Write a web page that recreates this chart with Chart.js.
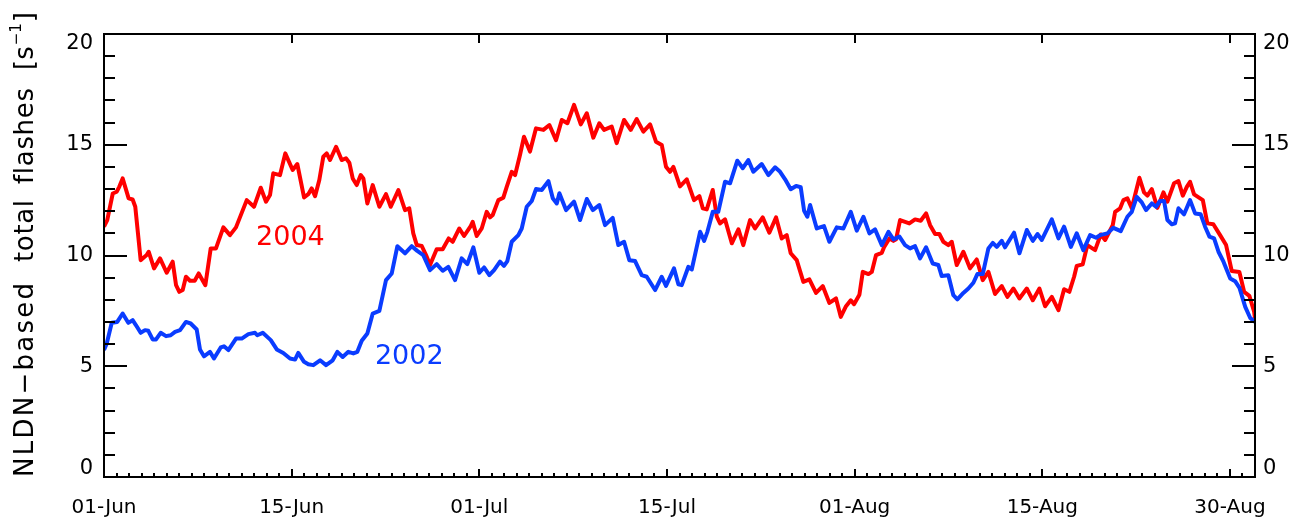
<!DOCTYPE html>
<html>
<head>
<meta charset="utf-8">
<script src="https://cdn.jsdelivr.net/npm/chart.js@4.4.1/dist/chart.umd.min.js"></script>
<style>
  html, body { margin: 0; padding: 0; background: #ffffff; }
  #wrap { width: 1302px; height: 520px; }
</style>
</head>
<body>
<div id="wrap"><canvas id="c" width="1302" height="520"></canvas></div>
<script>
// Day offsets from 01-Jun and running flash rates [s^-1]
const days2004 = [0.00,0.26,0.70,1.02,1.22,1.49,1.97,2.29,2.50,2.93,3.41,3.57,4.00,4.48,5.01,5.49,5.76,6.02,6.29,6.55,6.87,7.25,7.57,8.10,8.53,8.95,9.54,10.07,10.55,11.41,11.99,12.53,12.95,13.27,13.53,14.07,14.49,15.08,15.45,15.99,16.33,16.60,16.87,17.21,17.53,17.80,18.07,18.55,19.00,19.34,19.61,19.88,20.20,20.52,20.73,21.05,21.48,22.01,22.54,22.92,23.53,24.06,24.40,24.72,25.00,25.40,25.74,26.06,26.59,27.07,27.55,27.87,28.40,28.78,29.31,29.47,29.79,30.19,30.59,30.86,31.07,31.52,31.92,32.19,32.59,32.86,33.25,33.57,34.05,34.53,35.12,35.60,36.13,36.59,37.04,37.57,38.11,38.59,39.11,39.59,39.97,40.58,40.98,41.57,42.10,42.58,43.11,43.65,44.12,44.58,44.92,45.24,45.51,46.04,46.58,47.16,47.59,47.86,48.18,48.66,48.98,49.24,49.64,50.18,50.71,51.10,51.64,52.04,52.65,53.18,53.72,54.17,54.57,54.89,55.37,55.90,56.38,56.91,57.45,57.98,58.51,58.89,59.31,59.69,59.95,60.38,60.65,61.10,61.37,61.71,62.17,62.35,62.78,63.10,63.31,63.63,64.03,64.37,64.83,65.28,65.71,66.03,66.43,66.77,67.09,67.49,67.76,68.16,68.69,69.22,69.76,70.24,70.69,71.22,71.76,72.21,72.69,73.17,73.76,74.24,74.77,75.22,75.76,76.29,76.74,77.16,77.54,77.75,78.23,78.60,79.22,79.67,80.02,80.63,80.82,81.22,81.48,81.80,82.15,82.76,83.13,83.40,83.75,84.20,84.68,85.00,85.53,85.88,86.23,86.55,86.81,87.13,87.83,88.19,88.67,89.21,89.69,90.14,90.75,91.13,91.55,91.93,92.00];
const flashes2004 = [11.30,11.60,12.80,12.88,13.10,13.48,12.58,12.53,12.20,9.79,10.02,10.17,9.42,9.87,9.22,9.72,8.66,8.36,8.44,9.04,8.86,8.86,9.19,8.66,10.32,10.32,11.27,10.92,11.27,12.50,12.20,13.06,12.43,12.73,13.71,13.63,14.61,13.86,14.13,12.62,12.77,13.03,12.68,13.41,14.46,14.61,14.31,14.91,14.31,14.39,14.19,13.48,13.18,13.63,13.48,12.35,13.18,12.20,12.77,12.20,12.95,12.05,12.13,11.00,10.47,10.43,10.02,9.57,10.28,10.28,10.77,10.62,11.22,10.88,11.33,11.52,10.88,11.22,11.97,11.72,11.83,12.50,12.61,13.10,13.78,13.63,14.54,15.36,14.69,15.74,15.67,15.89,15.21,16.12,15.97,16.80,15.92,16.42,15.32,15.97,15.67,15.82,15.07,16.12,15.67,16.16,15.59,15.92,15.14,14.99,14.01,13.78,14.00,13.12,13.44,12.50,12.68,12.13,12.08,12.96,11.75,11.45,11.63,10.55,11.18,10.47,11.60,11.22,11.72,11.03,11.72,10.77,10.92,10.10,9.79,8.81,8.92,8.31,8.62,7.86,8.06,7.23,7.71,7.98,7.80,8.23,9.26,9.16,9.26,10.02,10.12,10.37,10.77,10.66,10.73,11.60,11.52,11.45,11.63,11.57,11.90,11.37,10.97,10.97,10.62,10.47,10.62,9.57,10.17,9.42,9.82,8.89,9.26,8.26,8.62,8.13,8.51,8.06,8.51,7.98,8.51,7.71,8.13,7.53,8.48,8.36,9.04,9.53,9.60,10.47,10.24,10.95,10.70,11.37,11.97,12.13,12.50,12.58,12.13,13.51,12.85,12.70,13.00,12.15,12.85,12.43,13.26,13.36,12.70,13.10,13.33,12.76,12.50,11.45,11.41,10.92,10.47,9.30,9.26,8.36,8.18,7.46,7.16];

const days2002 = [0.00,0.22,0.62,1.06,1.49,1.94,2.29,2.56,2.93,3.28,3.54,3.89,4.16,4.53,4.96,5.33,5.68,6.08,6.55,6.93,7.41,7.67,7.99,8.47,8.79,9.33,9.59,9.94,10.55,11.01,11.54,12.07,12.25,12.69,13.33,13.81,14.33,14.87,15.27,15.53,15.99,16.33,16.73,17.27,17.75,18.28,18.65,19.08,19.53,19.93,20.25,20.60,21.05,21.48,22.01,22.54,23.00,23.45,24.06,24.60,25.04,25.52,26.06,26.59,27.07,27.52,28.06,28.59,29.04,29.52,30.00,30.38,30.80,31.18,31.65,31.97,32.24,32.59,33.12,33.39,33.79,34.19,34.53,34.99,35.52,35.87,36.19,36.40,36.93,37.57,38.05,38.59,39.07,39.59,40.05,40.66,41.11,41.57,41.99,42.45,42.98,43.38,44.05,44.58,44.92,45.56,45.91,46.18,46.71,46.98,47.38,47.65,47.97,48.23,48.66,49.10,49.64,50.04,50.62,51.06,51.50,51.90,52.57,53.10,53.64,54.04,54.44,54.89,55.32,55.69,55.96,56.22,56.44,56.97,57.55,57.98,58.57,59.10,59.69,60.17,60.70,61.18,61.63,62.17,62.70,63.10,63.58,64.03,64.43,64.83,65.23,65.71,66.24,66.69,66.96,67.49,67.89,68.21,68.69,69.09,69.49,69.81,70.24,70.69,71.04,71.36,71.76,72.02,72.74,73.17,73.76,74.24,74.61,74.96,75.76,76.29,76.74,77.28,77.75,78.28,78.82,79.30,79.62,80.20,80.68,81.27,81.80,82.15,82.55,82.95,83.29,83.75,84.09,84.41,84.73,85.00,85.35,85.61,85.88,86.33,86.81,87.21,87.66,88.01,88.36,88.73,89.08,89.48,90.02,90.41,90.76,91.22,91.62,92.00];
const flashes2002 = [5.73,6.03,6.96,7.00,7.38,6.96,7.08,6.85,6.51,6.63,6.60,6.21,6.21,6.51,6.36,6.40,6.55,6.63,7.00,6.93,6.66,5.76,5.45,5.65,5.35,5.85,5.90,5.73,6.25,6.25,6.45,6.51,6.40,6.51,6.18,5.76,5.60,5.35,5.30,5.60,5.20,5.09,5.05,5.27,5.05,5.27,5.65,5.42,5.65,5.58,5.65,6.15,6.48,7.38,7.50,8.89,9.19,10.42,10.10,10.42,10.21,10.02,9.34,9.61,9.31,9.49,8.89,9.87,9.61,10.37,9.22,9.46,9.11,9.34,9.72,9.53,9.75,10.62,10.92,11.22,12.20,12.46,13.00,12.96,13.36,12.58,12.35,12.81,12.05,12.43,11.60,12.55,12.05,12.28,11.37,11.70,10.47,10.62,9.79,9.75,9.11,9.04,8.44,9.04,8.63,9.42,8.70,8.66,9.49,9.37,10.39,11.07,10.66,11.07,11.97,11.97,13.33,13.26,14.28,13.94,14.31,13.78,14.13,13.63,13.98,13.78,13.44,12.99,13.14,13.08,12.02,11.75,12.28,11.22,11.33,10.62,11.27,11.22,11.97,11.12,11.75,11.00,11.18,10.47,11.07,10.73,10.85,10.47,10.32,10.42,9.87,10.37,9.64,9.57,9.07,9.11,8.21,8.02,8.31,8.51,8.77,9.16,9.16,10.32,10.57,10.39,10.66,10.37,11.03,10.10,11.15,10.66,10.97,10.70,11.63,10.77,11.30,10.39,11.00,10.24,10.92,10.80,10.92,11.00,11.25,11.10,11.75,11.97,12.65,12.40,12.05,12.35,12.20,12.46,12.46,11.60,11.41,11.45,12.13,11.86,12.50,11.90,11.86,11.30,10.85,10.77,10.17,9.72,8.96,8.84,8.54,7.68,7.18,7.00];

// Axis ticks
const dateTickDays = [0, 15, 30, 45, 60, 75, 90];
const dateTickLabels = ['01-Jun', '15-Jun', '01-Jul', '15-Jul', '01-Aug', '15-Aug', '30-Aug'];
const valueTicks = [0, 5, 10, 15, 20];
const seriesNames = ['2002', '2004'];
const seriesColors = ['#0a3cff', '#ff0000'];

const toPoints = (xs, ys) => xs.map((x, i) => ({ x: x, y: ys[i] }));

const FONT = '"DejaVu Sans", "Liberation Sans", sans-serif';

// Draws a text segment along the rotated axis, stretched to a given length
function drawStretched(ctx, text, start, length, size) {
  ctx.font = size + 'px ' + FONT;
  ctx.letterSpacing = '0px';
  const natural = ctx.measureText(text).width;
  const n = [...text].length;
  const ls = n > 1 ? Math.max(0, (length - natural) / (n - 1)) : 0;
  ctx.letterSpacing = ls.toFixed(2) + 'px';
  ctx.fillText(text, start, 0);
  ctx.letterSpacing = '0px';
}

// Box frame, inward ticks, tick labels, axis title and in-plot series names
const framePlugin = {
  id: 'frame',
  afterDatasetsDraw(chart) {
    const { ctx, chartArea: a, scales: { x, y } } = chart;
    ctx.save();
    ctx.strokeStyle = '#000';
    ctx.lineWidth = 2;
    ctx.strokeRect(a.left, a.top, a.right - a.left, a.bottom - a.top);

    ctx.beginPath();
    for (let v = y.min; v <= y.max; v++) {
      const py = Math.round(y.getPixelForValue(v));
      const len = v % 5 === 0 ? 23 : 11;
      ctx.moveTo(a.left, py); ctx.lineTo(a.left + len, py);
      ctx.moveTo(a.right, py); ctx.lineTo(a.right - len, py);
    }
    for (let d = x.min; d <= x.max; d++) {
      const px = Math.round(x.getPixelForValue(d));
      const major = dateTickDays.includes(d);
      ctx.moveTo(px, a.bottom); ctx.lineTo(px, a.bottom - (major ? 8 : 4));
      if (major) { ctx.moveTo(px, a.top); ctx.lineTo(px, a.top + 9); }
    }
    ctx.stroke();

    // value labels on both sides
    ctx.fillStyle = '#000';
    ctx.font = '21px ' + FONT;
    ctx.textBaseline = 'middle';
    valueTicks.forEach(v => {
      let py = y.getPixelForValue(v);
      py = Math.min(Math.max(py, a.top + 10), a.bottom - 8);
      ctx.textAlign = 'right';
      ctx.fillText(String(v), a.left - 11, py);
      ctx.textAlign = 'left';
      ctx.fillText(String(v), a.right + 8, py);
    });

    // date labels
    ctx.textAlign = 'center';
    ctx.font = '20px ' + FONT;
    dateTickDays.forEach((d, i) => {
      ctx.fillText(dateTickLabels[i], x.getPixelForValue(d), a.bottom + 31);
    });

    // y axis title with superscript unit
    ctx.save();
    ctx.translate(33, a.bottom);
    ctx.rotate(-Math.PI / 2);
    ctx.textAlign = 'left';
    ctx.textBaseline = 'alphabetic';
    drawStretched(ctx, 'NLDN\u2212based', 0, 194, 26);
    drawStretched(ctx, 'total', 215, 62, 26);
    drawStretched(ctx, 'flashes', 293, 96, 26);
    ctx.font = '26px ' + FONT;
    ctx.fillText('[s', 407, 0);
    let w = 407 + ctx.measureText('[s').width + 1;
    ctx.font = '15px ' + FONT;
    ctx.fillText('\u22121', w, -12);
    w += ctx.measureText('\u22121').width + 1;
    ctx.font = '26px ' + FONT;
    ctx.fillText(']', w, 0);
    ctx.restore();

    // series names
    ctx.font = '27px ' + FONT;
    ctx.textAlign = 'center';
    ctx.textBaseline = 'middle';
    const namePos = [[24.4, 5.4], [14.9, 10.8]];
    seriesNames.forEach((n, i) => {
      ctx.fillStyle = seriesColors[i];
      ctx.fillText(n, x.getPixelForValue(namePos[i][0]), y.getPixelForValue(namePos[i][1]));
    });
    ctx.restore();
  }
};

new Chart(document.getElementById('c'), {
  type: 'line',
  data: {
    datasets: [
      { label: seriesNames[0], data: toPoints(days2002, flashes2002), borderColor: seriesColors[0], borderWidth: 4, pointRadius: 0, tension: 0, borderJoinStyle: 'round' },
      { label: seriesNames[1], data: toPoints(days2004, flashes2004), borderColor: seriesColors[1], borderWidth: 4, pointRadius: 0, tension: 0, borderJoinStyle: 'round' }
    ]
  },
  options: {
    responsive: false,
    animation: false,
    devicePixelRatio: 1,
    layout: { padding: { left: 104, right: 47, top: 34, bottom: 43 } },
    scales: {
      x: { type: 'linear', min: 0, max: 92, display: false },
      y: { type: 'linear', min: 0, max: 20, display: false }
    },
    plugins: { legend: { display: false }, tooltip: { enabled: false } }
  },
  plugins: [framePlugin]
});
</script>
</body>
</html>
